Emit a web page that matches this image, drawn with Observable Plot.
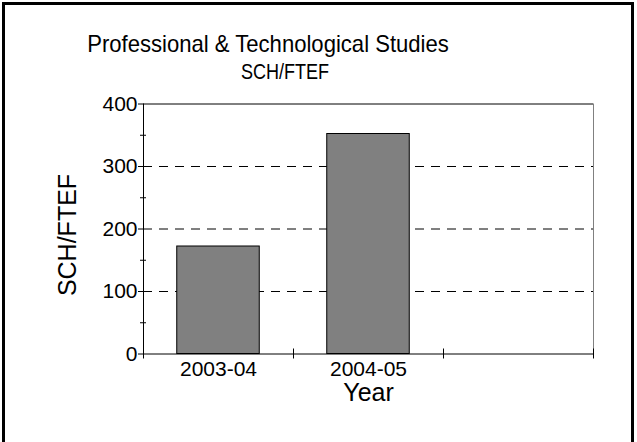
<!DOCTYPE html>
<html>
<head>
<meta charset="utf-8">
<script src="https://cdn.jsdelivr.net/npm/d3@7"></script>
<script src="https://cdn.jsdelivr.net/npm/@observablehq/plot@0.6"></script>
<style>
  body { margin: 0; background: #fff; }
  #wrap { position: relative; width: 637px; height: 442px; overflow: hidden;
          font-family: "Liberation Sans", Arial, sans-serif; background: #fff; }
  #frame { position: absolute; left: 2px; top: 2px; width: 626px; height: 470px;
           border: 3px solid #000; box-sizing: content-box; }
  .t { position: absolute; white-space: nowrap; color: #000; line-height: 1; }
  #title { left: 268px; top: 32px; font-size: 24px; transform: translateX(-50%) scaleX(0.92); }
  #subtitle { left: 285px; top: 60.5px; font-size: 22px; transform: translateX(-50%) scaleX(0.82); }
  #chart { position: absolute; left: 0; top: 0; }
</style>
</head>
<body>
<div id="wrap">
  <div id="frame"></div>
  <div id="chart"></div>
  <div class="t" id="title"></div>
  <div class="t" id="subtitle"></div>
</div>
<script>
const titleText = "Professional & Technological Studies";
const subtitleText = "SCH/FTEF";
const years = ["2003-04", "2004-05", ""];
const values = [172, 352];
const yTicks = [0, 100, 200, 300, 400];
const yMinorTicks = [50, 150, 250, 350];
const gridValues = [100, 200, 300];
const yLabel = "SCH/FTEF";
const xLabel = "Year";

document.getElementById("title").textContent = titleText;
document.getElementById("subtitle").textContent = subtitleText;

const n = years.length;
const data = values.map((v, i) => ({i, year: years[i], value: v}));
const boundaries = d3.range(n + 1);
const barPad = 0.225;

const chart = Plot.plot({
  width: 637,
  height: 442,
  marginLeft: 143,
  marginRight: 44,
  marginTop: 103.5,
  marginBottom: 88.5,
  x: {type: "linear", domain: [0, n], axis: null},
  y: {domain: [0, 400], axis: null},
  style: {fontFamily: "'Liberation Sans', Arial, sans-serif", fontSize: "21px", background: "transparent", color: "#000"},
  marks: [
    Plot.ruleY(gridValues, {y: d => d, x1: 0, x2: n, stroke: "#000", strokeWidth: 1, strokeDasharray: "9,7"}),
    Plot.rectY(data, {x1: d => d.i + barPad, x2: d => d.i + 1 - barPad, y1: 0, y2: d => d.value,
      fill: "#808080", stroke: "#000", strokeWidth: 1}),
    Plot.ruleY([400], {y: d => d, x1: 0, x2: n, stroke: "#000"}),
    Plot.ruleX([n], {x: d => d, y1: 0, y2: 400, stroke: "#808080"}),
    Plot.ruleY([0], {y: d => d, x1: 0, x2: n, stroke: "#000"}),
    Plot.ruleX([0], {x: d => d, y1: 0, y2: 400, stroke: "#000"}),
    Plot.ruleY(yMinorTicks, {y: d => d, x1: 0, x2: 0, insetLeft: -3, insetRight: -3, stroke: "#000"}),
    Plot.ruleX(boundaries, {x: d => d, y1: 0, y2: 0, insetTop: -5, insetBottom: -5, stroke: "#000"}),
    Plot.axisY({ticks: yTicks, tickSize: 5, tickPadding: 1, label: null, fontSize: 21, stroke: "#000"}),
    Plot.axisX({ticks: years.map((d, i) => i + 0.5), tickFormat: d => years[Math.floor(d)],
      tickSize: 0, tickPadding: 7, label: null, fontSize: 21}),
    Plot.text([yLabel], {text: d => d, frameAnchor: "left", textAnchor: "middle", rotate: -90, dx: -76, dy: 6, fontSize: 25, fill: "#000"}),
    Plot.text([xLabel], {text: d => d, frameAnchor: "bottom", lineAnchor: "bottom", dy: 47, fontSize: 25, fill: "#000"})
  ]
});
document.getElementById("chart").appendChild(chart);
</script>
</body>
</html>
